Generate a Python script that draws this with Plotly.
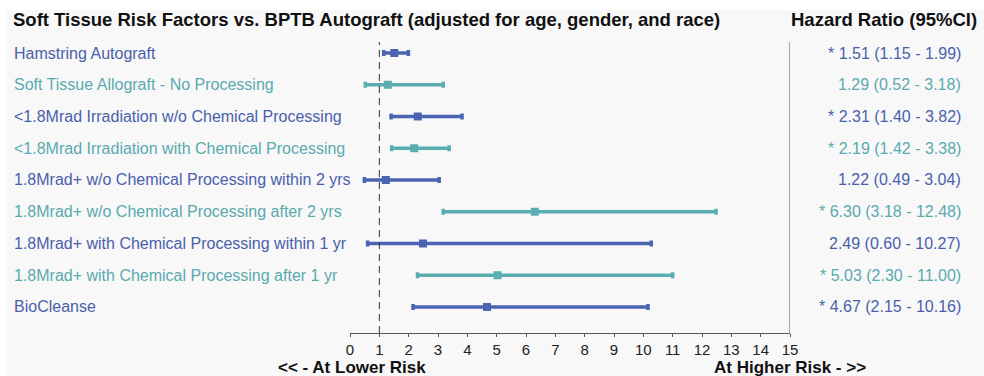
import plotly.graph_objects as go

# Risk factor rows (top to bottom)
categories = [
    "Hamstring Autograft",
    "Soft Tissue Allograft - No Processing",
    "<1.8Mrad Irradiation w/o Chemical Processing",
    "<1.8Mrad Irradiation with Chemical Processing",
    "1.8Mrad+ w/o Chemical Processing within 2 yrs",
    "1.8Mrad+ w/o Chemical Processing after 2 yrs",
    "1.8Mrad+ with Chemical Processing within 1 yr",
    "1.8Mrad+ with Chemical Processing after 1 yr",
    "BioCleanse",
]
hazard_ratio = [1.51, 1.29, 2.31, 2.19, 1.22, 6.30, 2.49, 5.03, 4.67]
ci_low = [1.15, 0.52, 1.40, 1.42, 0.49, 3.18, 0.60, 2.30, 2.15]
ci_high = [1.99, 3.18, 3.82, 3.38, 3.04, 12.48, 10.27, 11.00, 10.16]
significant = [True, False, True, True, False, True, False, True, True]
x_ticks = list(range(0, 16))

BLUE = "#4a64b2"
TEAL = "#5aadb0"
BLUE_TXT = "#4a60aa"
TEAL_TXT = "#5aaaae"
FONT = "Liberation Sans, Arial, sans-serif"

fig = go.Figure()

rows = list(range(1, len(categories) + 1))
for i, (cat, hr, lo, hi) in enumerate(zip(categories, hazard_ratio, ci_low, ci_high)):
    color = BLUE if i % 2 == 0 else TEAL
    fig.add_trace(go.Scatter(
        x=[hr], y=[rows[i]],
        mode="markers",
        marker=dict(symbol="square", size=8, color=color),
        error_x=dict(type="data", symmetric=False,
                     array=[hi - hr], arrayminus=[hr - lo],
                     color=color, thickness=3.5, width=3),
        showlegend=False, hoverinfo="skip",
    ))

# light panel behind the whole chart
fig.add_shape(type="rect", xref="paper", yref="paper",
              x0=(6 - 350) / 440, x1=(984 - 350) / 440,
              y0=(333 - 376) / 293, y1=(333 - 10) / 293,
              fillcolor="#f8f8f9", line=dict(width=0), layer="below")

# reference line at HR = 1
fig.add_shape(type="line", xref="x", yref="paper", x0=1, x1=1,
              y0=0, y1=(333 - 42) / 293,
              line=dict(color="#333333", width=1, dash="7px,5px"))
# right border line
fig.add_shape(type="line", xref="x", yref="paper", x0=15, x1=15,
              y0=0, y1=(333 - 42) / 293,
              line=dict(color="#555566", width=1))

annotations = []
for i, (cat, hr, lo, hi, sig) in enumerate(zip(categories, hazard_ratio, ci_low, ci_high, significant)):
    tcolor = BLUE_TXT if i % 2 == 0 else TEAL_TXT
    annotations.append(dict(
        x=(12 - 350) / 440, xref="paper", y=rows[i], yref="y",
        text=cat, showarrow=False, xanchor="left", yanchor="middle",
        font=dict(family=FONT, size=16, color=tcolor)))
    label = f"{'* ' if sig else ''}{hr:.2f} ({lo:.2f} - {hi:.2f})"
    annotations.append(dict(
        x=(963 - 350) / 440, xref="paper", y=rows[i], yref="y",
        text=label, showarrow=False, xanchor="right", yanchor="middle",
        font=dict(family=FONT, size=16, color=tcolor)))

annotations += [
    dict(x=(11 - 350) / 440, xref="paper", y=(333 - 19) / 293, yref="paper",
         text="<b>Soft Tissue Risk Factors vs. BPTB Autograft (adjusted for age, gender, and race)</b>",
         showarrow=False, xanchor="left", yanchor="middle",
         font=dict(family=FONT, size=18.5, color="#111111")),
    dict(x=(789 - 350) / 440, xref="paper", y=(333 - 19) / 293, yref="paper",
         text="<b>Hazard Ratio (95%CI)</b>",
         showarrow=False, xanchor="left", yanchor="middle",
         font=dict(family=FONT, size=18.5, color="#111111")),
    dict(x=(352 - 350) / 440, xref="paper", y=(333 - 367) / 293, yref="paper",
         text="<b>&lt;&lt; - At Lower Risk</b>",
         showarrow=False, xanchor="center", yanchor="middle",
         font=dict(family=FONT, size=17, color="#111111")),
    dict(x=(790 - 350) / 440, xref="paper", y=(333 - 367) / 293, yref="paper",
         text="<b>At Higher Risk - &gt;&gt;</b>",
         showarrow=False, xanchor="center", yanchor="middle",
         font=dict(family=FONT, size=17, color="#111111")),
]

fig.update_layout(
    width=984, height=376,
    margin=dict(l=350, r=194, t=40, b=43),
    paper_bgcolor="white", plot_bgcolor="rgba(0,0,0,0)",
    annotations=annotations,
    xaxis=dict(range=[0, 15], tickvals=x_ticks, showgrid=False, zeroline=False,
               showline=True, linecolor="#555566", linewidth=1,
               ticks="outside", ticklen=3, tickcolor="#555566",
               ticklabelstandoff=0,
               tickfont=dict(family=FONT, size=15, color="#222222")),
    yaxis=dict(range=[9.82, 0.59], showgrid=False, zeroline=False,
               showticklabels=False, showline=False),
)

fig.write_html("out.html")
